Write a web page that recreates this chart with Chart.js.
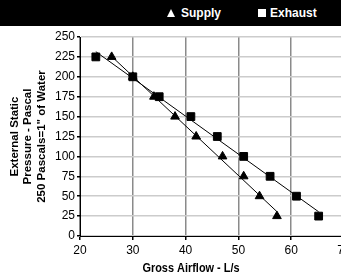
<!DOCTYPE html>
<html><head><meta charset="utf-8">
<script src="https://cdn.jsdelivr.net/npm/chart.js@4"></script>
<style>
html,body{margin:0;padding:0;background:#fff;overflow:hidden;width:341px;height:278px}
#wrap{position:relative;width:352px;height:278px}
#c{position:absolute;left:0;top:0}
#hdr{position:absolute;left:0;top:0;width:341px;height:26px;background:#000;color:#fff;font:bold 12px 'Liberation Sans',Arial,sans-serif}
#hdr .t{position:absolute;top:6px;line-height:14px;white-space:nowrap}
#tri{position:absolute;left:167px;top:9px;width:0;height:0;border-left:4.5px solid transparent;border-right:4.5px solid transparent;border-bottom:8px solid #fff}
#sq{position:absolute;left:258px;top:9px;width:8px;height:8px;background:#fff}
</style></head><body>
<div id="wrap">
<canvas id="c" width="352" height="278"></canvas>
<div id="hdr"><div id="tri"></div><span class="t" style="left:181px">Supply</span><div id="sq"></div><span class="t" style="left:270px">Exhaust</span></div>
</div>
<script>
const supplyAirflow = [26, 30, 34, 38, 42, 47, 51, 54, 57.3];
const supplyPressure = [225, 200, 175, 150, 125, 100, 75, 50, 25];
const exhaustAirflow = [23, 30, 35, 41, 46, 51, 56, 61, 65.2];
const exhaustPressure = [225, 200, 175, 150, 125, 100, 75, 50, 25];
const xTicks = [20, 30, 40, 50, 60, 70];
const yTicks = [0, 25, 50, 75, 100, 125, 150, 175, 200, 225, 250];
const yTitle = ['External Static', 'Pressure - Pascal', '250 Pascals=1" of Water'];
const xTitle = 'Gross Airflow - L/s';

function pts(xs, ys) { return xs.map((x, i) => ({x: x, y: ys[i]})); }
function trend(xs, ys) {
  const n = xs.length;
  const mx = xs.reduce((a, b) => a + b, 0) / n;
  const my = ys.reduce((a, b) => a + b, 0) / n;
  let sxy = 0, sxx = 0;
  for (let i = 0; i < n; i++) { sxy += (xs[i] - mx) * (ys[i] - my); sxx += (xs[i] - mx) * (xs[i] - mx); }
  const m = sxy / sxx, b = my - m * mx;
  const x0 = Math.min(...xs), x1 = Math.max(...xs);
  return [{x: x0, y: m * x0 + b}, {x: x1, y: m * x1 + b}];
}

const FAM = "'Liberation Sans', Arial, sans-serif";

const xTitlePlugin = {
  id: 'xTitle',
  afterDraw(chart) {
    const ctx = chart.ctx;
    ctx.save();
    ctx.translate(191, 268);
    ctx.scale(0.84, 1);
    ctx.font = 'bold 13px ' + FAM;
    ctx.fillStyle = '#000';
    ctx.textAlign = 'center';
    ctx.textBaseline = 'middle';
    ctx.fillText(xTitle, 0, 0);
    ctx.restore();
  }
};

new Chart(document.getElementById('c'), {
  type: 'scatter',
  data: {
    datasets: [
      {label: 'Supply', data: pts(supplyAirflow, supplyPressure), pointStyle: 'triangle', pointRadius: 5, backgroundColor: '#000', borderColor: '#000', borderWidth: 1, showLine: false},
      {label: 'Exhaust', data: pts(exhaustAirflow, exhaustPressure), pointStyle: 'rect', pointRadius: 5.5, backgroundColor: '#000', borderColor: '#000', borderWidth: 1, showLine: false},
      {label: 'Supply trend', data: trend(supplyAirflow, supplyPressure), showLine: true, pointRadius: 0, borderColor: '#000', borderWidth: 1, fill: false},
      {label: 'Exhaust trend', data: trend(exhaustAirflow, exhaustPressure), showLine: true, pointRadius: 0, borderColor: '#000', borderWidth: 1, fill: false}
    ]
  },
  options: {
    responsive: false,
    animation: false,
    devicePixelRatio: 1,
    layout: {padding: {top: 37, right: 8, left: 0, bottom: 0}},
    plugins: {legend: {display: false}, tooltip: {enabled: false}},
    scales: {
      x: {
        type: 'linear', min: 20, max: 70,
        afterBuildTicks: s => { s.ticks = xTicks.map(v => ({value: v})); },
        afterFit: s => { s.height = 42; s.paddingLeft = 0; s.paddingRight = 0; },
        ticks: {color: '#000', font: {family: FAM, size: 12}, padding: 3, maxRotation: 0},
        grid: {color: '#8a8a8a', lineWidth: 1.5, tickColor: '#000', tickLength: 4},
        border: {color: '#000', width: 1}
      },
      y: {
        min: 0, max: 250,
        afterBuildTicks: s => { s.ticks = yTicks.map(v => ({value: v})); },
        afterFit: s => { s.width = 80; s.paddingTop = 0; s.paddingBottom = 0; },
        ticks: {color: '#000', font: {family: FAM, size: 12}, padding: 2},
        grid: {color: '#cccccc', lineWidth: 1.5, tickColor: '#000', tickLength: 3},
        border: {color: '#000', width: 1},
        title: {display: true, text: yTitle, color: '#000', font: {family: FAM, size: 11.5, weight: 'bold', lineHeight: 1.17}, padding: {top: 8, bottom: 0}}
      }
    }
  },
  plugins: [xTitlePlugin]
});
</script>
</body></html>
